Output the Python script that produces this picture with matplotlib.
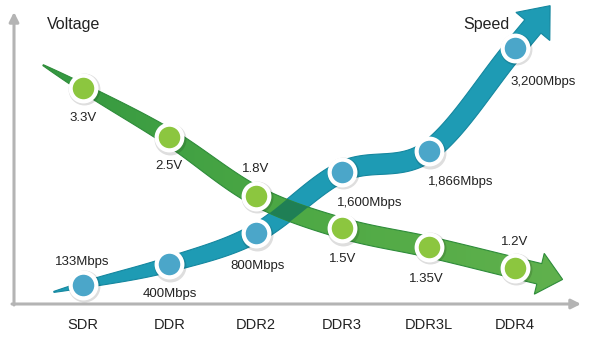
import numpy as np
import matplotlib.pyplot as plt
from matplotlib.patches import Polygon
from matplotlib.transforms import offset_copy
from matplotlib.colors import LinearSegmentedColormap

categories = ['SDR', 'DDR', 'DDR2', 'DDR3', 'DDR3L', 'DDR4']
voltage = [3.3, 2.5, 1.8, 1.5, 1.35, 1.2]
voltage_labels = ['3.3V', '2.5V', '1.8V', '1.5V', '1.35V', '1.2V']
speed = [133, 400, 800, 1600, 1866, 3200]
speed_labels = ['133Mbps', '400Mbps', '800Mbps', '1,600Mbps', '1,866Mbps', '3,200Mbps']

# label offsets in pixels (dx, dy)
volt_off = [(0, -30), (0, -29), (0, 27), (0, -31), (-2, -32), (0, 26)]
speed_off = [(-1, 23), (0, -30), (2, -33), (28, -31), (32, -31), (28, -34)]

FONT = ['Liberation Sans', 'DejaVu Sans']
TXT = '#222222'
W, H = 600, 340


def catmull_rom(pts, n=40):
    p = np.vstack([2 * pts[0] - pts[1], pts, 2 * pts[-1] - pts[-2]])
    out = []
    t = np.linspace(0, 1, n, endpoint=False)[:, None]
    for i in range(1, len(p) - 2):
        p0, p1, p2, p3 = p[i - 1], p[i], p[i + 1], p[i + 2]
        out.append(0.5 * (2 * p1 + (-p0 + p2) * t
                          + (2 * p0 - 5 * p1 + 4 * p2 - p3) * t ** 2
                          + (-p0 + 3 * p1 - 3 * p2 + p3) * t ** 3))
    out.append(pts[-1][None, :])
    return np.vstack(out)


def unit(v):
    return v / np.hypot(*v)


def arrow_band(pts, lead, tail, head_len, head_half, wmax, k=100):
    # tapered ribbon through pts (display pixels) ending in an arrow head
    c = catmull_rom(pts)
    t0 = unit(c[1] - c[0])
    t1 = unit(c[-1] - c[-2])
    lead_pts = c[0] - t0 * np.linspace(lead, 0, 20, endpoint=False)[:, None]
    tail_pts = c[-1] + t1 * np.linspace(0, tail, 10)[1:, None]
    c = np.vstack([lead_pts, c, tail_pts])
    d = np.gradient(c, axis=0)
    d = d / np.hypot(d[:, 0], d[:, 1])[:, None]
    nrm = np.column_stack([-d[:, 1], d[:, 0]])
    s = np.concatenate([[0], np.cumsum(np.hypot(*np.diff(c, axis=0).T))])
    w = 1 + (wmax - 1) * (1 - np.exp(-s / k))
    left = c + nrm * w[:, None] / 2
    right = c - nrm * w[:, None] / 2
    b = c[-1]
    nb = np.array([-t1[1], t1[0]])
    head = np.array([b + nb * head_half, b + t1 * head_len, b - nb * head_half])
    return np.vstack([left, head, right[::-1]])


fig = plt.figure(figsize=(6, 3.4), dpi=100)
ax = fig.add_axes([0, 0, 1, 1])
xlim = (-0.961, 5.984)
vlim = (0.80, 5.41)
ax.set_xlim(*xlim)
ax.set_yscale('log')
ax.set_ylim(*vlim)
ax2 = ax.twinx()
ax2.set_ylim(-579, 3821)
ax.axis('off')
ax2.axis('off')

x = np.arange(len(categories))
to_fig = fig.transFigure.inverted()

vpts = ax.transData.transform(np.column_stack([x, voltage]))
spts = ax2.transData.transform(np.column_stack([x, speed]))

blue_poly = to_fig.transform(arrow_band(spts, 30, 28, 27, 22, 21))
green_poly = to_fig.transform(arrow_band(vpts, 46, 25, 24, 21, 21))

blue = Polygon(blue_poly, closed=True, transform=fig.transFigure,
               fc='#1e9bb4', ec='#15879f', lw=0.8, zorder=1)
ax.add_artist(blue)
green = Polygon(green_poly, closed=True, transform=fig.transFigure,
                fc='none', ec='#2e8c3a', lw=0.8, zorder=2.2)
ax.add_artist(green)

# left-to-right shading inside the green ribbon
greens = LinearSegmentedColormap.from_list('g', ['#2f9540', '#4ea945', '#63b24e'])
grad = np.linspace(0, 1, 256)[None, :]
im = ax.imshow(grad, cmap=greens, extent=[0, 1, 0, 1], aspect='auto',
               transform=fig.transFigure, zorder=2, interpolation='bilinear')
clip = Polygon(green_poly, closed=True, transform=fig.transFigure)
im.set_clip_path(clip)
ax.set_xlim(*xlim)
ax.set_ylim(*vlim)

cross = Polygon(green_poly, closed=True, transform=fig.transFigure,
                fc='#1f7f55', ec='none', zorder=3)
cross.set_clip_path(blue)
ax.add_artist(cross)

# markers with a soft shadow and white ring
sh = offset_copy(ax.transData, fig, x=1, y=-1.5, units='dots')
ax.plot(x, voltage, 'o', ms=23, color='black', alpha=0.13, mew=0,
        transform=sh, zorder=5)
ax.plot(x, voltage, 'o', ms=18.5, mfc='#8cc63f', mec='white', mew=3, zorder=6)
sh2 = offset_copy(ax2.transData, fig, x=1, y=-1.5, units='dots')
ax2.plot(x, speed, 'o', ms=23, color='black', alpha=0.13, mew=0,
         transform=sh2, zorder=5)
ax2.plot(x, speed, 'o', ms=18.5, mfc='#4ba6c9', mec='white', mew=3, zorder=6)

for xi, v, lab, (dx, dy) in zip(x, voltage, voltage_labels, volt_off):
    ax.annotate(lab, (xi, v), xytext=(dx, dy), textcoords='offset pixels',
                ha='center', va='center', fontsize=9.5, color=TXT,
                family=FONT, zorder=8)
for xi, v, lab, (dx, dy) in zip(x, speed, speed_labels, speed_off):
    ax2.annotate(lab, (xi, v), xytext=(dx, dy), textcoords='offset pixels',
                 ha='center', va='center', fontsize=9.5, color=TXT,
                 family=FONT, zorder=8)

# axis arrows
arrow = dict(arrowstyle='-|>', color='#b4b4b4', lw=2.2, mutation_scale=14,
             shrinkA=0, shrinkB=0)
ax.annotate('', xy=(14 / W, 1 - 12 / H), xytext=(14 / W, 1 - 305 / H),
            xycoords='figure fraction', arrowprops=arrow)
ax.annotate('', xy=(581 / W, 1 - 304 / H), xytext=(12 / W, 1 - 304 / H),
            xycoords='figure fraction', arrowprops=arrow)

for xi, cat in zip(x, categories):
    ax.text(xi, 1 - 325 / H, cat, transform=ax.get_xaxis_transform(),
            ha='center', va='center', fontsize=10.5, color=TXT, family=FONT)

fig.text(47 / W, 1 - 25 / H, 'Voltage', ha='left', va='center',
         fontsize=11.5, color=TXT, family=FONT)
fig.text(463 / W, 1 - 25 / H, 'Speed', ha='left', va='center',
         fontsize=11.5, color=TXT, family=FONT)

fig.savefig('out.png', dpi=100, facecolor='white')
